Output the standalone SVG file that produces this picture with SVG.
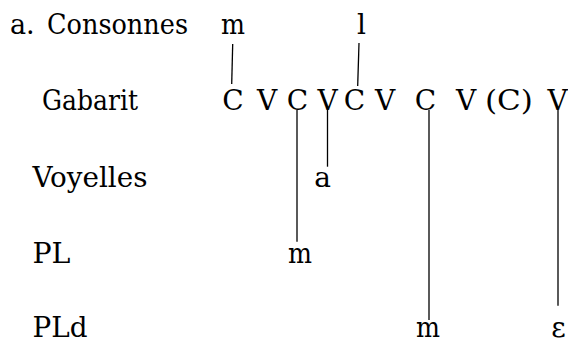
<svg xmlns="http://www.w3.org/2000/svg" width="568" height="344" viewBox="0 0 568 344" font-family="DejaVu Serif, Liberation Serif, serif" font-size="28">
<style>
.m{text-anchor:middle}
.ln{stroke:#000;stroke-width:1.3;fill:none}
</style>
<rect width="568" height="344" fill="#fff"/>
<g id="labels">
<text x="10" y="34" font-size="27">a.</text>
<text x="47" y="34" textLength="141" lengthAdjust="spacingAndGlyphs">Consonnes</text>
<text x="42" y="110" textLength="96" lengthAdjust="spacingAndGlyphs">Gabarit</text>
<text x="32.5" y="186.5" textLength="115" lengthAdjust="spacingAndGlyphs">Voyelles</text>
<text x="32.5" y="262.5" textLength="38" lengthAdjust="spacingAndGlyphs">PL</text>
<text x="32.5" y="337" textLength="55" lengthAdjust="spacingAndGlyphs">PLd</text>
</g>
<g id="consonnes">
<text id="c-m" x="221" y="34" textLength="24" lengthAdjust="spacingAndGlyphs">m</text>
<text id="c-l" class="m" x="361.5" y="34">l</text>
</g>
<g id="gabarit">
<text id="g-C1" class="m" x="233" y="110">C</text>
<text id="g-V1" class="m" x="267" y="110">V</text>
<text id="g-C2" class="m" x="297.5" y="110">C</text>
<text id="g-V2" class="m" x="327.5" y="110">V</text>
<text id="g-C3" class="m" x="354.5" y="110">C</text>
<text id="g-V3" class="m" x="385" y="110">V</text>
<text id="g-C4" class="m" x="425.5" y="110">C</text>
<text id="g-V4" class="m" x="466" y="110">V</text>
<text id="g-C5" x="485" y="110" textLength="48" lengthAdjust="spacingAndGlyphs">(C)</text>
<text id="g-V5" class="m" x="557.5" y="110">V</text>
</g>
<g id="voyelles">
<text id="v-a" class="m" x="322.5" y="186.5">a</text>
</g>
<g id="pl">
<text id="pl-m" x="288" y="262.5" textLength="24" lengthAdjust="spacingAndGlyphs">m</text>
</g>
<g id="pld">
<text id="pld-m" x="416" y="337" textLength="24" lengthAdjust="spacingAndGlyphs">m</text>
<text id="pld-e" class="m" x="558.5" y="337">ε</text>
</g>
<g id="connectors">
<line class="ln" x1="232.7" y1="44" x2="231.7" y2="84"/>
<line class="ln" x1="359" y1="43" x2="357.7" y2="86"/>
<line class="ln" x1="297" y1="110" x2="297" y2="241.7"/>
<line class="ln" x1="327.5" y1="108" x2="327.5" y2="166.7"/>
<line class="ln" x1="429" y1="110" x2="429" y2="320"/>
<line class="ln" x1="558" y1="110" x2="558" y2="305.7"/>
</g>
</svg>
